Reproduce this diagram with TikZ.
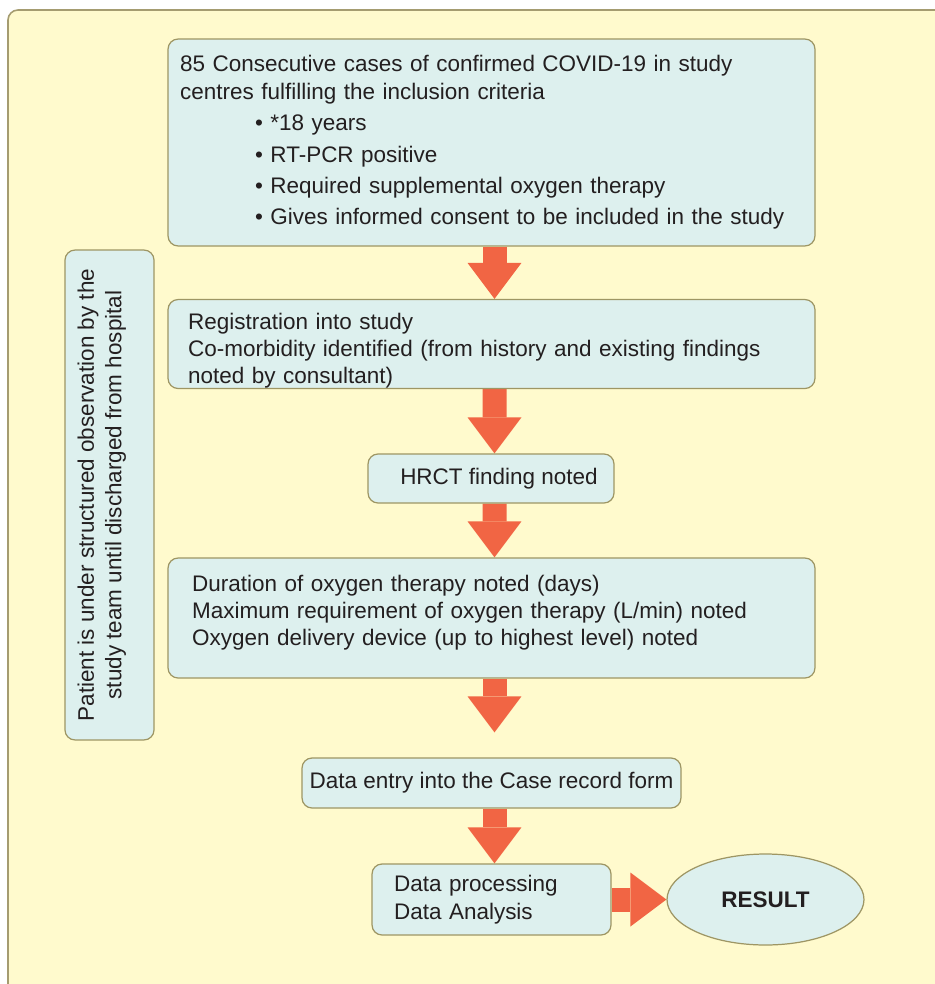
\documentclass[tikz,border=0pt]{standalone}
\usepackage{fontspec}
\setmainfont{Liberation Sans}
\usetikzlibrary{arrows.meta, shapes.geometric, backgrounds}
\usepackage{xcolor}
\definecolor{panelbg}{RGB}{255,250,205}
\definecolor{paneledge}{RGB}{165,156,112}
\definecolor{boxfill}{RGB}{221,240,238}
\definecolor{boxedge}{RGB}{158,150,100}
\definecolor{flowred}{RGB}{241,101,68}
\definecolor{ink}{RGB}{35,31,32}

\begin{document}
\begin{tikzpicture}[x=0.02cm, y=-0.02cm,
  box/.style={draw=boxedge, line width=0.7pt, rounded corners=0.2cm, fill=boxfill, text=ink,
              font=\fontsize{12.8}{15.6}\selectfont, inner sep=0pt},
  wide/.style={box, minimum width=12.94cm, align=left},
  oval/.style={box, ellipse, sharp corners, font=\fontsize{12.8}{15.6}\selectfont\bfseries},
  flow/.style={flowred, line width=0.48cm, -{Triangle[length=0.72cm, width=1.08cm, line width=0pt]}}
]
\useasboundingbox (0,0) rectangle (935,984);
\begin{scope}[on background layer]
\draw[draw=paneledge, fill=panelbg, line width=0.9pt, rounded corners=0.2cm] (8,10) rectangle (1000,1030);
\end{scope}

\node[wide, minimum height=4.14cm, text width=12.46cm] (cases) at (491.5,142.5)
  {85 Consecutive cases of confirmed COVID-19 in study\\
   centres fulfilling the inclusion criteria\\[0.08cm]
   \hspace*{1.5cm}\textbullet\ *18 years\\[0.08cm]
   \hspace*{1.5cm}\textbullet\ RT-PCR positive\\[0.08cm]
   \hspace*{1.5cm}\textbullet\ Required supplemental oxygen therapy\\[0.08cm]
   \hspace*{1.5cm}\textbullet\ Gives informed consent to be included in the study};
\node[wide, minimum height=1.76cm, text width=12.14cm, text height=0.59cm] (reg) at (491.5,344)
  {Registration into study\\
   Co-morbidity identified (from history and existing findings\\
   noted by consultant)};
\node[box, minimum width=4.92cm, minimum height=0.98cm] (hrct) at (491,478.5)
  {\hspace*{0.32cm}HRCT finding noted};
\node[wide, minimum height=2.4cm, text width=11.98cm, text depth=1.4cm] (oxy) at (491.5,618)
  {Duration of oxygen therapy noted (days)\\
   Maximum requirement of oxygen therapy (L/min) noted\\
   Oxygen delivery device (up to highest level) noted};
\node[box, minimum width=7.58cm, minimum height=1cm] (crf) at (491.5,783)
  {Data entry into the Case record form};
\node[box, minimum width=4.78cm, minimum height=1.42cm, text width=3.9cm, align=left] (proc) at (491.5,899.5)
  {Data processing\\Data Analysis};
\node[oval, minimum width=3.94cm, minimum height=1.82cm] (res) at (765.5,899.5) {RESULT};
\node[box, rotate=90, minimum width=9.8cm, minimum height=1.78cm, align=center, text depth=0.4cm] (watch) at (109.5,495)
  {Patient is under structured observation by the\\
   study team until discharged from hospital};

% block arrows behind the boxes
\begin{scope}[on background layer]
\draw[flow] ([xshift=0.06cm]cases.south) -- ([xshift=0.06cm]reg.north);
\draw[flow] ([xshift=0.06cm]reg.south) -- ([xshift=0.07cm]hrct.north);
\draw[flow] ([xshift=0.07cm]hrct.south) -- ([xshift=0.06cm]oxy.north);
\draw[flow] ([xshift=0.06cm]oxy.south) -- ([xshift=0.06cm,yshift=0.5cm]crf.north);
\draw[flow] ([xshift=0.06cm]crf.south) -- ([xshift=0.06cm]proc.north);
\draw[flow] (proc.east) -- (res.west);
\end{scope}
\end{tikzpicture}
\end{document}
